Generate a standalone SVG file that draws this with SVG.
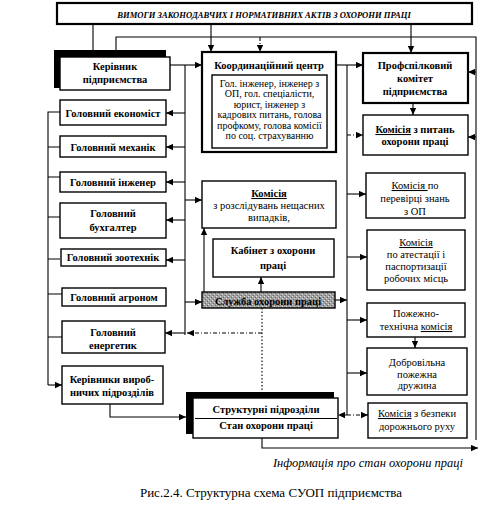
<svg xmlns="http://www.w3.org/2000/svg" width="484" height="517" viewBox="0 0 484 517">
<style>
text{font-family:"Liberation Serif","Times New Roman",serif;fill:#000;text-anchor:middle}
.b{font-weight:bold;font-size:10.5px}
.r{font-size:10.5px}
.s{font-size:10px}
.box{fill:#fff;stroke:#000;stroke-width:1.4}
.thk{fill:#fff;stroke:#000;stroke-width:2.2}
.ln{fill:none;stroke:#000;stroke-width:1.1}
.ar{fill:none;stroke:#000;stroke-width:1.1;marker-end:url(#ah)}
.da{stroke-dasharray:4 2 1 2}
.dt{stroke-dasharray:1.5 2}
.u{text-decoration:underline}
</style>
<defs>
<marker id="ah" viewBox="0 0 10 10" refX="10" refY="5" markerWidth="8" markerHeight="7" markerUnits="userSpaceOnUse" orient="auto">
<path d="M0,0.5 L10,5 L0,9.5 z" fill="#000"/>
</marker>
<pattern id="grain" width="4" height="4" patternUnits="userSpaceOnUse">
<rect width="4" height="4" fill="#a0a0a0"/>
<rect x="0" y="0" width="1" height="1" fill="#e0e0e0"/>
<rect x="2" y="2" width="1" height="1" fill="#d8d8d8"/>
<rect x="3" y="1" width="1" height="1" fill="#666"/>
<rect x="1" y="3" width="1" height="1" fill="#707070"/>
</pattern>
</defs>
<rect width="484" height="517" fill="#fff"/>

<g id="connectors">
<path class="ln" d="M93,25 V50"/>
<path class="ln" d="M116,50 V37 H476 V440"/>
<path class="ar" d="M211,25 V52"/>
<path class="ar da" d="M260,37 V52"/>
<path class="ar" d="M411,25 V53"/>
<path class="ar" d="M170,65 H202"/>
<path class="ln" d="M185,65 V335"/>
<path class="ar" d="M185,113 H166"/>
<path class="ar" d="M185,147 H166"/>
<path class="ar" d="M185,182 H166"/>
<path class="ar" d="M185,220 H166"/>
<path class="ar" d="M185,260 H166"/>
<path class="ar" d="M185,333 H165"/>
<path class="ar" d="M185,200 H202"/>
<path class="ar" d="M185,302 H202"/>
<path class="ln dt" d="M262,308 V393"/>
<path class="ar da" d="M262,333 H187"/>
<path class="ln" d="M60,112 H48 V385"/>
<path class="ar" d="M48,385 H62"/>
<path class="ln" d="M48,147 H60 M48,177 H60 M48,217 H60 M48,259 H60 M48,294 H62 M48,337 H62"/>
<path class="ar" d="M110,404 V417 H186"/>
<path class="ar" d="M336,65 H363"/>
<path class="ln" d="M347,65 V415"/>
<path class="ar da" d="M347,135 H363"/>
<path class="ar" d="M347,194 H366"/>
<path class="ar" d="M347,257 H367"/>
<path class="ar" d="M347,320 H367"/>
<path class="ar" d="M347,373 H367"/>
<path class="ar" d="M335,300 H347"/>
<path class="ar da" d="M347,415 H338"/>
<path class="ar da" d="M347,415 H368"/>
<path class="ar" d="M413,103 V115"/>
<path class="ar" d="M415,337 V348"/>
<path class="ar" d="M476,72 H468"/>
<path class="ar" d="M476,137 H468"/>
<path class="ar" d="M204,292 V228"/>
<path class="ar" d="M261,292 V277"/>
<path class="ar" d="M262,438 V448 H478"/>
</g>

<g id="vymohy">
<rect x="57" y="3" width="415" height="21" class="thk" stroke-width="2.6"/>
<text x="264" y="17.5" font-size="8.6" font-weight="bold" font-style="italic">ВИМОГИ ЗАКОНОДАВЧИХ І НОРМАТИВНИХ АКТІВ З ОХОРОНИ ПРАЦІ</text>
</g>

<g id="kerivnyk">
<rect x="54" y="50" width="112" height="38" fill="#000"/>
<rect x="60" y="57" width="110" height="33" class="box"/>
<text class="b" x="115" y="70" font-size="11">Керівник</text>
<text class="b" x="115" y="83" font-size="11">підприємства</text>
</g>

<g id="ekonomist"><rect x="60" y="100" width="106" height="25" class="box"/><text class="b" x="113" y="116.5">Головний економіст</text></g>
<g id="mekhanik"><rect x="60" y="136" width="106" height="21" class="box"/><text class="b" x="113" y="150.5">Головний механік</text></g>
<g id="inzhener"><rect x="60" y="172" width="106" height="20" class="box"/><text class="b" x="113" y="185.5">Головний інженер</text></g>
<g id="bukhhalter"><rect x="60" y="203" width="106" height="35" class="box"/><text class="b" x="113" y="217">Головний</text><text class="b" x="113" y="231">бухгалтер</text></g>
<g id="zootekhnik"><rect x="61" y="249" width="105" height="17" class="box"/><text class="b" x="113" y="261">Головний зоотехнік</text></g>
<g id="ahronom"><rect x="62" y="288" width="104" height="18" class="box"/><text class="b" x="114" y="300.5">Головний агроном</text></g>
<g id="enerhetyk"><rect x="62" y="321" width="103" height="32" class="box"/><text class="b" x="113" y="336">Головний</text><text class="b" x="113" y="349">енергетик</text></g>
<g id="kerivnyky"><rect x="62" y="366" width="101" height="38" class="box"/><text class="b" x="112" y="383">Керівники вироб-</text><text class="b" x="112" y="396">ничих підрозділів</text></g>

<g id="koordynatsiynyi">
<rect x="202" y="52" width="134" height="100" class="thk"/>
<text class="b" x="269" y="69" font-size="11">Координаційний центр</text>
<rect x="212" y="75" width="115" height="73" class="box"/>
<text class="s" x="269.5" y="87">Гол. інженер, інженер з</text>
<text class="s" x="269.5" y="97.4">ОП, гол. спеціалісти,</text>
<text class="s" x="269.5" y="107.8">юрист, інженер з</text>
<text class="s" x="269.5" y="118.2">кадрових питань, голова</text>
<text class="s" x="269.5" y="128.6">профкому, голова комісії</text>
<text class="s" x="269.5" y="139">по соц. страхуванню</text>
</g>

<g id="rozsliduvannia">
<rect x="202" y="181" width="134" height="47" class="box"/>
<text class="b u" x="269" y="197">Комісія</text>
<text class="r" x="269" y="209">з розслідувань нещасних</text>
<text class="r" x="269" y="221">випадків,</text>
</g>

<g id="kabinet">
<rect x="213" y="239" width="121" height="38" class="box"/>
<text class="b" x="273" y="254">Кабінет з охорони</text>
<text class="b" x="273" y="269">праці</text>
</g>

<g id="sluzhba">
<rect x="202" y="292" width="133" height="16" fill="url(#grain)" stroke="#000" stroke-width="1.4"/>
<text class="b" x="268" y="305">Служба охорони праці</text>
</g>

<g id="strukturni">
<rect x="186" y="392" width="148" height="42" fill="#000"/>
<rect x="193" y="398" width="145" height="40" class="box"/>
<text class="b" x="266" y="413" font-size="11">Структурні підрозділи</text>
<path class="ln" d="M195,418.5 H337"/>
<text class="b" x="266" y="429" font-size="11">Стан охорони праці</text>
</g>

<g id="profkom">
<rect x="363" y="53" width="105" height="50" class="thk"/>
<text class="b" x="415" y="69" font-size="11">Профспілковий</text>
<text class="b" x="415" y="82" font-size="11">комітет</text>
<text class="b" x="415" y="95" font-size="11">підприємства</text>
</g>

<g id="komisiia-pytan">
<rect x="363" y="115" width="105" height="40" class="box"/>
<text class="b" x="415" y="133"><tspan class="u">Комісія</tspan> з питань</text>
<text class="b" x="415" y="145">охорони праці</text>
</g>

<g id="perevirka">
<rect x="366" y="173" width="99" height="45" class="box"/>
<text class="r" x="415" y="189"><tspan class="u">Комісія </tspan>по</text>
<text class="r" x="415" y="202">перевірці знань</text>
<text class="r" x="415" y="215">з ОП</text>
</g>

<g id="atestatsiia">
<rect x="367" y="230" width="98" height="60" class="box"/>
<text class="r u" x="416" y="246">Комісія</text>
<text class="r" x="416" y="258">по атестації і</text>
<text class="r" x="416" y="270">паспортизації</text>
<text class="r" x="416" y="282">робочих місць</text>
</g>

<g id="pozhezhno">
<rect x="367" y="303" width="98" height="34" class="box"/>
<text class="r" x="416" y="317">Пожежно-</text>
<text class="r" x="416" y="330">технічна <tspan class="u">комісія</tspan></text>
</g>

<g id="druzhyna">
<rect x="367" y="348" width="100" height="47" class="box"/>
<text class="r" x="417" y="366">Добровільна</text>
<text class="r" x="417" y="377.5">пожежна</text>
<text class="r" x="417" y="389">дружина</text>
</g>

<g id="bezpeka">
<rect x="368" y="403" width="99" height="35" class="box"/>
<text class="r" x="417" y="417"><tspan class="u">Комісія</tspan> з безпеки</text>
<text class="r" x="417" y="430">дорожнього руху</text>
</g>

<text x="463" y="467" font-size="12.5" font-style="italic" style="text-anchor:end">Інформація про  стан   охорони праці</text>
<text x="271" y="497" font-size="13">Рис.2.4.  Структурна схема СУОП підприємства</text>
</svg>
